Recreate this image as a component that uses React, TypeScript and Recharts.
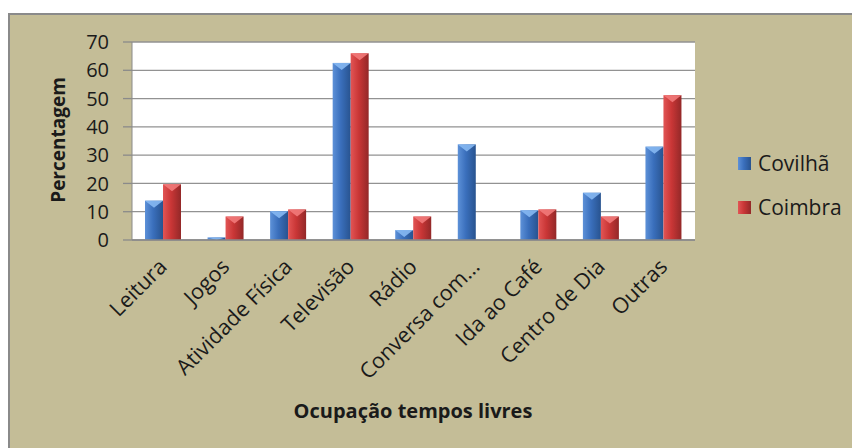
import { BarChart, Bar, XAxis, YAxis, CartesianGrid, Legend, Label } from 'recharts'

const categories = [
  'Leitura',
  'Jogos',
  'Atividade Física',
  'Televisão',
  'Rádio',
  'Conversa com...',
  'Ida ao Café',
  'Centro de Dia',
  'Outras',
]
const covilha = [13.9, 0.9, 10.2, 62.6, 3.5, 33.8, 10.5, 16.7, 33]
const coimbra = [19.7, 8.3, 10.8, 66, 8.3, 0, 10.8, 8.3, 51.2]
const yTicks = [0, 10, 20, 30, 40, 50, 60, 70]

const data = categories.map((name, i) => ({ name, covilha: covilha[i], coimbra: coimbra[i] }))

const FONT = "'Open Sans', sans-serif"
const BG = '#C4BD97'

const palette = {
  blue: { light: '#5D91D8', mid: '#3A6FBC', dark: '#28538F', cap: '#86B8F2' },
  red: { light: '#E25555', mid: '#C93636', dark: '#932828', cap: '#F27A7A' },
}

function Bar3D(props: any) {
  const { x, y, width, height, tone } = props
  if (!height || height <= 0) return null
  const c = palette[tone as 'blue' | 'red']
  const cap = Math.min(7, height)
  return (
    <g>
      <rect x={x} y={y} width={width} height={height} fill={`url(#grad-${tone})`} />
      <polygon
        points={`${x},${y} ${x + width},${y} ${x + width / 2},${y + cap}`}
        fill={c.cap}
        opacity={0.9}
      />
    </g>
  )
}

function XTick(props: any) {
  const { x, y, payload } = props
  const tx = x + 5
  const ty = y + 28
  return (
    <text
      x={tx}
      y={ty}
      transform={`rotate(-45, ${tx}, ${ty})`}
      textAnchor="end"
      fontSize={21.5}
      fontFamily={FONT}
      fill="#1a1a1a"
    >
      {payload.value}
    </text>
  )
}

function LegendBox() {
  const items = [
    { label: 'Covilhã', tone: 'blue' as const },
    { label: 'Coimbra', tone: 'red' as const },
  ]
  return (
    <div>
      {items.map((it) => {
        const c = palette[it.tone]
        return (
          <div key={it.label} style={{ height: 44, display: 'flex', alignItems: 'center' }}>
            <span
              style={{
                width: 13,
                height: 13,
                marginRight: 7,
                background: `linear-gradient(to right, ${c.light}, ${c.mid} 45%, ${c.dark})`,
              }}
            />
            <span style={{ fontFamily: FONT, fontSize: 21, color: '#1a1a1a' }}>{it.label}</span>
          </div>
        )
      })}
    </div>
  )
}

export default function App() {
  return (
    <div
      style={{
        marginTop: 5,
        width: 850,
        height: 433,
        background: BG,
        borderTop: '2px solid #8a8a8a',
        borderLeft: '2px solid #8a8a8a',
        overflow: 'hidden',
      }}
    >
      <BarChart
        width={850}
        height={433}
        data={data}
        margin={{ top: 27, right: 165, bottom: 0, left: 0 }}
        barGap={0}
        barSize={18}
      >
        <defs>
          {(['blue', 'red'] as const).map((t) => (
            <linearGradient key={t} id={`grad-${t}`} x1="0" y1="0" x2="1" y2="0">
              <stop offset="0%" stopColor={palette[t].light} />
              <stop offset="45%" stopColor={palette[t].mid} />
              <stop offset="100%" stopColor={palette[t].dark} />
            </linearGradient>
          ))}
        </defs>
        <CartesianGrid vertical={false} fill="#fff" stroke="#929292" strokeWidth={1.3} />
        <XAxis
          dataKey="name"
          interval={0}
          tickLine={false}
          tickSize={0}
          tickMargin={0}
          axisLine={{ stroke: '#8a8a8a', strokeWidth: 1.3 }}
          height={208}
          tick={<XTick />}
        >
          <Label
            content={() => (
              <text
                x={403}
                y={395}
                textAnchor="middle"
                dominantBaseline="central"
                fontFamily={FONT}
                fontWeight="bold"
                fontSize={20}
                fill="#1a1a1a"
              >
                Ocupação tempos livres
              </text>
            )}
          />
        </XAxis>
        <YAxis
          width={122}
          domain={[0, 70]}
          ticks={yTicks}
          tickSize={9}
          tickMargin={14}
          tickLine={{ stroke: '#8a8a8a', strokeWidth: 1.3 }}
          axisLine={{ stroke: '#8a8a8a' }}
          tick={{ fontSize: 20, fontFamily: FONT, fill: '#1a1a1a' }}
        >
          <Label
            content={() => (
              <text
                x={48}
                y={125}
                transform="rotate(-90, 48, 125)"
                textAnchor="middle"
                dominantBaseline="central"
                fontFamily={FONT}
                fontWeight="bold"
                fontSize={19}
                fill="#1a1a1a"
              >
                Percentagem
              </text>
            )}
          />
        </YAxis>
        <Legend
          layout="horizontal"
          verticalAlign="middle"
          align="center"
          wrapperStyle={{ left: 728, top: 126, width: 120, height: 88 }}
          content={() => <LegendBox />}
        />
        <Bar
          dataKey="covilha"
          name="Covilhã"
          fill={palette.blue.mid}
          isAnimationActive={false}
          shape={(p: any) => <Bar3D {...p} tone="blue" />}
        />
        <Bar
          dataKey="coimbra"
          name="Coimbra"
          fill={palette.red.mid}
          isAnimationActive={false}
          shape={(p: any) => <Bar3D {...p} tone="red" />}
        />
      </BarChart>
    </div>
  )
}
